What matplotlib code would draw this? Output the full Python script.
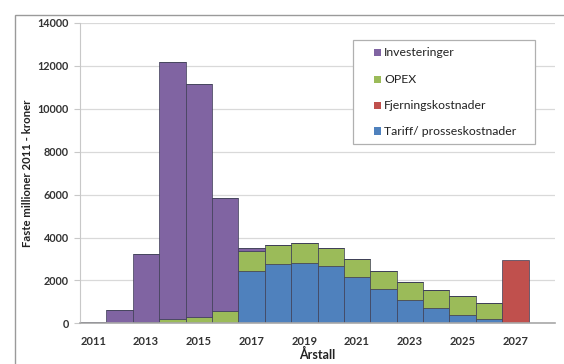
import matplotlib.pyplot as plt
from matplotlib.patches import Rectangle
import numpy as np

years = list(range(2011, 2029))
tariff = [0, 0, 0, 0, 0, 0, 2450, 2750, 2830, 2690, 2160, 1615, 1090, 700, 400, 190, 0, 0]
opex = [0, 0, 80, 190, 310, 580, 900, 900, 930, 840, 840, 840, 850, 855, 860, 770, 0, 0]
invest = [40, 620, 3150, 11970, 10860, 5280, 150, 0, 0, 0, 0, 0, 0, 0, 0, 0, 0, 0]
fjerning = [0, 0, 0, 0, 0, 0, 0, 0, 0, 0, 0, 0, 0, 0, 0, 0, 2940, 0]

labels = ["Investeringer", "OPEX", "Fjerningskostnader", "Tariff/ prosseskostnader"]
colors = {"invest": "#8064A2", "opex": "#9BBB59", "fjern": "#C0504D", "tariff": "#4F81BD"}

plt.rcParams['font.family'] = ['Lato', 'DejaVu Sans']

W, H = 564, 364
fig = plt.figure(figsize=(W / 100, H / 100), dpi=100)
fig.patches.append(Rectangle((15 / W, -0.05), 1.2, (H - 15) / H + 0.05,
                             transform=fig.transFigure, fill=False,
                             edgecolor="#9a9a9a", linewidth=1.0))
ax = fig.add_axes([80 / W, (H - 323.3) / H, 475 / W, 300.3 / H])

x = np.arange(len(years))
edge = dict(edgecolor="#3d3d55", linewidth=0.5, width=1.0)
t = np.array(tariff)
o = np.array(opex)
i = np.array(invest)
f = np.array(fjerning)
ax.bar(x, t, color=colors["tariff"], **edge)
ax.bar(x, o, bottom=t, color=colors["opex"], **edge)
ax.bar(x, i, bottom=t + o, color=colors["invest"], **edge)
ax.bar(x, f, bottom=t + o + i, color=colors["fjern"], **edge)

ax.set_xlim(-0.5, len(years) - 0.5)
ax.set_ylim(0, 14000)
ax.set_yticks(range(0, 14001, 2000))
ax.set_yticklabels([str(v) for v in range(0, 14001, 2000)], fontsize=7.8,
                   color="#333333", fontweight="bold")
tick_idx = [k for k, yr in enumerate(years) if yr % 2 == 1]
ax.set_xticks(tick_idx)
ax.set_xticklabels([str(years[k]) for k in tick_idx], fontsize=8,
                   color="#333333", fontweight="bold")
ax.tick_params(axis="x", length=0, pad=9)
ax.tick_params(axis="y", length=4, color="#c8c8c8", pad=4)
ax.grid(axis="y", color="#d9d9d9", linewidth=0.9)
ax.set_axisbelow(True)
for s in ["top", "right"]:
    ax.spines[s].set_visible(False)
ax.spines["left"].set_color("#c8c8c8")
ax.spines["bottom"].set_color("#a8a8a8")
ax.spines["bottom"].set_linewidth(1.2)

ax.set_ylabel("Faste millioner 2011 - kroner", fontsize=8.2, fontweight="bold",
              color="#222222", labelpad=3)
ax.set_xlabel("Årstall", fontsize=9, fontweight="bold", color="#222222", labelpad=1)

# Legend box drawn in figure pixel coordinates
def fx(px):
    return px / W

def fy(py):
    return (H - py) / H

fig.patches.append(Rectangle((fx(353), fy(144)), fx(535) - fx(353), fy(40) - fy(144),
                             transform=fig.transFigure, facecolor="white",
                             edgecolor="#b0b0b0", linewidth=0.9, zorder=5))
legend_colors = [colors["invest"], colors["opex"], colors["fjern"], colors["tariff"]]
row_y = [52.7, 79.5, 105.5, 131]
for lab, col, ry in zip(labels, legend_colors, row_y):
    fig.patches.append(Rectangle((fx(374), fy(ry + 3.5)), fx(381) - fx(374), fy(ry - 3.5) - fy(ry + 3.5),
                                 transform=fig.transFigure, facecolor=col,
                                 edgecolor="none", zorder=6))
    fig.text(fx(384), fy(ry), lab, fontsize=8.8, color="#222222",
             ha="left", va="center", zorder=7)

fig.savefig("out.png", dpi=100)
